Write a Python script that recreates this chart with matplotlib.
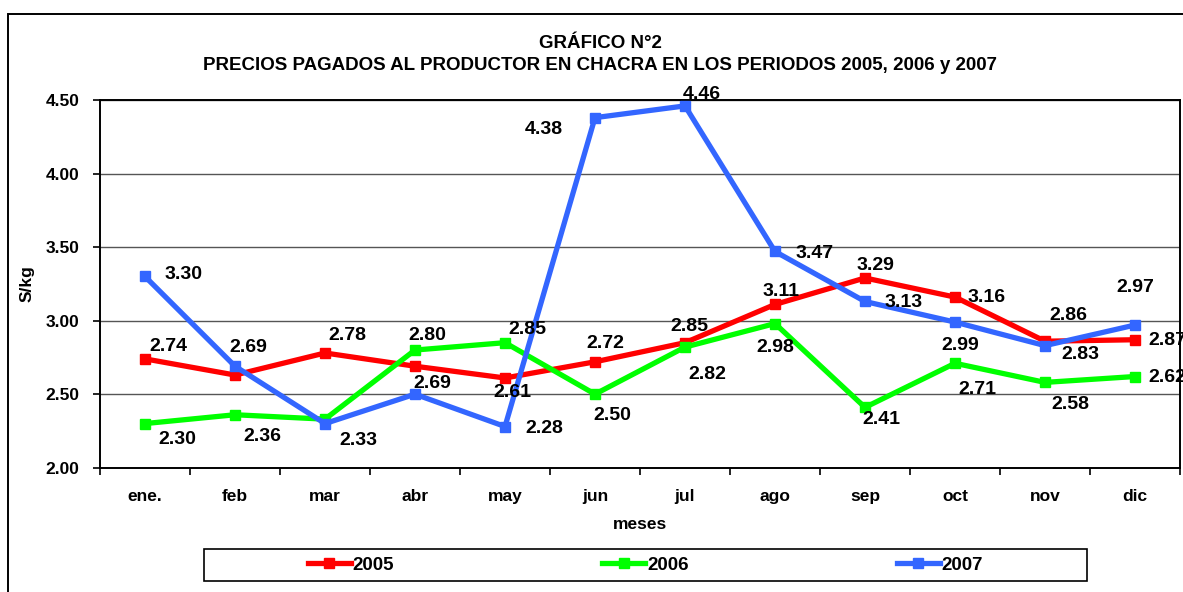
import matplotlib
matplotlib.use("Agg")
import matplotlib.pyplot as plt
from matplotlib.patches import Rectangle
import numpy as np

plt.rcParams['font.family'] = ['Liberation Sans', 'DejaVu Sans']
plt.rcParams['font.weight'] = 'bold'

# ---- data ----
months = ['ene.', 'feb', 'mar', 'abr', 'may', 'jun', 'jul', 'ago', 'sep', 'oct', 'nov', 'dic']
series_names = ['2005', '2006', '2007']
p2005 = [2.74, 2.63, 2.78, 2.69, 2.61, 2.72, 2.85, 3.11, 3.29, 3.16, 2.86, 2.87]
p2006 = [2.30, 2.36, 2.33, 2.80, 2.85, 2.50, 2.82, 2.98, 2.41, 2.71, 2.58, 2.62]
p2007 = [3.30, 2.69, 2.30, 2.50, 2.28, 4.38, 4.46, 3.47, 3.13, 2.99, 2.83, 2.97]
# which points carry a data label
lab2005 = [1, 0, 1, 1, 1, 1, 1, 1, 1, 1, 1, 1]
lab2006 = [1, 1, 1, 1, 1, 1, 1, 1, 1, 1, 1, 1]
lab2007 = [1, 1, 0, 0, 1, 1, 1, 1, 1, 1, 1, 1]
yticks = [2.00, 2.50, 3.00, 3.50, 4.00, 4.50]

# ---- label placement (pixels: dx right, dy down) ----
off2005 = [(23, -12), None, (22, -17), (17, 17), (7, 15), (10, -18), (4, -16),
           (6, -13), (10, -12), (32, 0), (23, -26), (32, 1)]
off2006 = [(32, 16), (27, 22), (33, 21), (12, -15), (22, -13), (17, 21), (22, 27),
           (0, 24), (16, 12), (22, 26), (25, 22), (32, 1)]
off2007 = [(39, -2), (13, -19), None, None, (39, 2), (-51, 12), (17, -11),
           (40, 2), (39, 1), (5, 23), (35, 9), (0, -38)]

colors = ['#FF0000', '#00FF00', '#3366FF']

W, H = 1183, 592
fig = plt.figure(figsize=(W / 100, H / 100), dpi=100)
ax = fig.add_axes([100 / W, 1 - 467.7 / H, 1080 / W, 367.7 / H])

x = np.arange(len(months))
lines = []
for vals, c, name in zip([p2005, p2006, p2007], colors, series_names):
    ln, = ax.plot(x, vals, color=c, lw=3.8, marker='s', markersize=6.5,
                  markeredgecolor=c, markerfacecolor=c, label=name, zorder=3,
                  solid_joinstyle='miter')
    lines.append(ln)

for vals, labs, offs in zip([p2005, p2006, p2007], [lab2005, lab2006, lab2007],
                            [off2005, off2006, off2007]):
    for i, (v, l, o) in enumerate(zip(vals, labs, offs)):
        if l and o is not None:
            ax.annotate(f"{v:.2f}", (x[i], v), xytext=(o[0], -o[1]),
                        textcoords='offset pixels', ha='center', va='center',
                        fontsize=14, fontweight='bold', color='black',
                        annotation_clip=False, zorder=5)

ax.set_xlim(-0.5, len(months) - 0.5)
ax.set_ylim(yticks[0], yticks[-1])
ax.set_yticks(yticks)
ax.set_yticklabels([f"{t:.2f}" for t in yticks])
ax.set_xticks(x)
ax.set_xticklabels(months)
ax.set_xticks(np.arange(-0.5, len(months) + 0.5, 1), minor=True)
ax.tick_params(axis='x', which='major', length=0, pad=15, labelsize=12.5)
ax.tick_params(axis='x', which='minor', length=5, width=1.2, direction='out', color='black')
ax.tick_params(axis='y', which='major', length=5, width=1.2, direction='out', pad=10, labelsize=12.5)
for lab in ax.get_xticklabels() + ax.get_yticklabels():
    lab.set_fontweight('bold')

ax.yaxis.grid(True, color='#555555', lw=1.0)
ax.set_axisbelow(True)
for s in ax.spines.values():
    s.set_color('black')
    s.set_linewidth(1.4)

ax.set_xlabel('meses', fontsize=12.5, fontweight='bold', labelpad=10)
ax.set_ylabel('S/kg', fontsize=12.5, fontweight='bold')
ax.yaxis.set_label_coords(-0.061, 0.5)

fig.text(600 / W, 1 - 43 / H, 'GRÁFICO N°2', ha='center', va='center',
         fontsize=13.5, fontweight='bold')
fig.text(600 / W, 1 - 66 / H,
         'PRECIOS PAGADOS AL PRODUCTOR EN CHACRA EN LOS PERIODOS 2005, 2006 y 2007',
         ha='center', va='center', fontsize=13.5, fontweight='bold')

# outer chart frame
fig.add_artist(Rectangle((8 / W, -0.2), 1.2, 1.2 - 14 / H, transform=fig.transFigure,
                         fill=False, edgecolor='black', lw=1.4))

# legend
fig.add_artist(Rectangle((204 / W, 1 - 581 / H), 883 / W, 32 / H, transform=fig.transFigure,
                         fill=False, edgecolor='black', lw=1.2))
leg = fig.legend(handles=lines, labels=series_names, loc='center',
                 bbox_to_anchor=(645.5 / W, 1 - 565 / H), ncol=3, frameon=False,
                 handlelength=2.3, handletextpad=0.1, columnspacing=11.1,
                 prop={'size': 13.5, 'weight': 'bold'})

fig.savefig('out.png', dpi=100)
